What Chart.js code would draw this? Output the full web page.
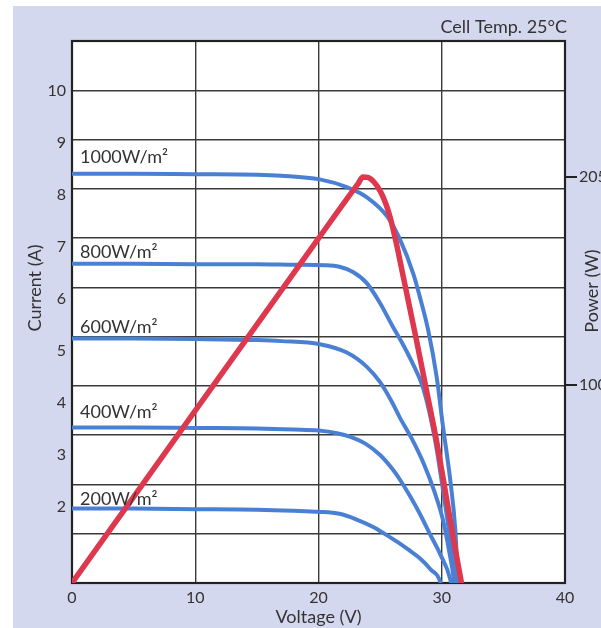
<!DOCTYPE html>
<html>
<head>
<meta charset="utf-8">
<script src="https://cdn.jsdelivr.net/npm/chart.js@4/dist/chart.umd.min.js"></script>
<style>
  html, body { margin: 0; padding: 0; background: #ffffff; overflow: hidden; }
  #wrap { width: 601px; height: 628px; position: relative; }
</style>
</head>
<body>
<div id="wrap"><canvas id="c"></canvas></div>
<script>
// ---- Data ----
const voltageTicks = [0, 10, 20, 30, 40];
const currentTicks = [2, 3, 4, 5, 6, 7, 8, 9, 10];
const powerTicks = [100, 205];

const irradianceLabels = ['1000W/m²', '800W/m²', '600W/m²', '400W/m²', '200W/m²'];

// I-V curves (voltage V, current A)
const v1000 = [0, 5, 10, 15, 17, 20.1, 22.3, 23.9, 25.6, 26.6, 27.7, 28.2, 28.9, 29.6, 30.1, 30.7, 31.1, 31.3, 31.4];
const i1000 = [8.41, 8.41, 8.40, 8.39, 8.37, 8.30, 8.15, 7.96, 7.58, 7.15, 6.48, 6.06, 5.40, 4.48, 3.55, 2.50, 1.56, 0.60, 0];

const v800 = [0, 5, 10, 15, 18, 20.5, 21.7, 22.8, 23.9, 25.0, 26.0, 26.8, 27.6, 28.5, 29.45, 30.4, 30.9, 31.2, 31.35];
const i800 = [6.68, 6.68, 6.67, 6.67, 6.66, 6.65, 6.62, 6.52, 6.31, 5.92, 5.48, 5.15, 4.78, 4.28, 3.30, 1.85, 1.05, 0.54, 0];

const v600 = [0, 5, 10, 15, 17, 20.1, 22.3, 23.9, 25.0, 26.0, 26.6, 27.6, 28.6, 29.4, 30.1, 30.6, 31.0, 31.15];
const i600 = [5.24, 5.24, 5.23, 5.21, 5.19, 5.13, 4.97, 4.70, 4.40, 4.00, 3.72, 3.30, 2.80, 2.30, 1.75, 1.15, 0.54, 0];

const v400 = [0, 5, 10, 15, 18, 20, 21.5, 22.6, 23.8, 25.0, 26.0, 26.6, 27.4, 28.2, 29.0, 29.9, 30.7, 31.1];
const i400 = [3.53, 3.53, 3.52, 3.51, 3.49, 3.47, 3.42, 3.35, 3.22, 3.00, 2.73, 2.53, 2.22, 1.88, 1.50, 1.08, 0.60, 0];

const v200 = [0, 5, 10, 15, 18, 20, 21.7, 23.0, 24.4, 25.4, 26.4, 27.3, 28.2, 29.1, 29.9, 30.3];
const i200 = [1.97, 1.97, 1.96, 1.95, 1.93, 1.91, 1.87, 1.77, 1.62, 1.48, 1.33, 1.18, 1.02, 0.80, 0.54, 0];

// P-V curve at 1000 W/m2 (voltage V, power W)
const vPower = [0, 5, 10, 15, 20, 22.6, 23.2, 23.6, 24.0, 24.5, 25.0, 25.4, 25.8, 26.3, 26.9, 27.5, 28.0, 28.8, 29.6, 30.3, 30.9, 31.6];
const pPower = [0, 43.5, 87, 130.5, 174, 196.5, 201.5, 205, 204.8, 202.5, 198, 192.5, 185, 172, 154, 136, 121, 96, 71, 46, 24, 0];

// ---- helpers ----
const pts = (xs, ys) => xs.map((x, k) => ({ x: x, y: ys[k] }));
const BLUE = 'rgb(74,128,212)';
const RED = 'rgb(222,56,78)';
const INK = '#333333';
const GRID = '#3a3a3a';
const FONT = 'Lato, "Open Sans", sans-serif';
Chart.defaults.font.family = FONT;
Chart.defaults.color = INK;

const labelCurrent = [8.62, 6.79, 5.35, 3.71, 2.04];

const decor = {
  id: 'decor',
  beforeDraw(chart) {
    const { ctx, chartArea: a, width, height } = chart;
    ctx.save();
    ctx.fillStyle = '#ffffff';
    ctx.fillRect(0, 0, width, height);
    ctx.fillStyle = '#d4d8ee';
    ctx.fillRect(13, 6, width - 13, height - 6);
    ctx.fillStyle = '#ffffff';
    ctx.fillRect(a.left, a.top, a.right - a.left, a.bottom - a.top);
    ctx.restore();
  },
  beforeDatasetsDraw(chart) {
    const { ctx, chartArea: a } = chart;
    ctx.save();
    ctx.strokeStyle = '#222222';
    ctx.lineWidth = 2.2;
    ctx.strokeRect(a.left, a.top, a.right - a.left, a.bottom - a.top);
    ctx.restore();
  },
  afterDraw(chart) {
    const { ctx, chartArea: a, scales } = chart;
    ctx.save();
    ctx.fillStyle = INK;
    // irradiance labels
    ctx.font = '18px ' + FONT;
    ctx.textAlign = 'left';
    ctx.textBaseline = 'alphabetic';
    irradianceLabels.forEach((t, k) => {
      ctx.fillText(t, scales.x.getPixelForValue(0.65), scales.y.getPixelForValue(labelCurrent[k]));
    });
    // cell temperature note
    ctx.font = '18px ' + FONT;
    ctx.textAlign = 'right';
    ctx.fillText('Cell Temp. 25°C', a.right + 2, 33);
    // axis titles (rotated)
    ctx.font = '18px ' + FONT;
    ctx.textAlign = 'center';
    ctx.textBaseline = 'middle';
    ctx.save();
    ctx.translate(35, 288);
    ctx.rotate(-Math.PI / 2);
    ctx.fillText('Current (A)', 0, 0);
    ctx.restore();
    ctx.save();
    ctx.translate(592, 291);
    ctx.rotate(-Math.PI / 2);
    ctx.fillText('Power (W)', 0, 0);
    ctx.restore();
    ctx.restore();
  }
};

new Chart(document.getElementById('c'), {
  type: 'line',
  data: {
    datasets: [
      { label: 'Power 1000W/m²', data: pts(vPower, pPower), yAxisID: 'yp', borderColor: RED, borderWidth: 5.5 },
      { label: '1000W/m²', data: pts(v1000, i1000), yAxisID: 'y', borderColor: BLUE, borderWidth: 4 },
      { label: '800W/m²', data: pts(v800, i800), yAxisID: 'y', borderColor: BLUE, borderWidth: 4 },
      { label: '600W/m²', data: pts(v600, i600), yAxisID: 'y', borderColor: BLUE, borderWidth: 4 },
      { label: '400W/m²', data: pts(v400, i400), yAxisID: 'y', borderColor: BLUE, borderWidth: 4 },
      { label: '200W/m²', data: pts(v200, i200), yAxisID: 'y', borderColor: BLUE, borderWidth: 4 }
    ]
  },
  options: {
    responsive: true,
    maintainAspectRatio: false,
    animation: false,
    layout: { padding: { top: 41, left: 0, right: 0, bottom: 0 } },
    elements: {
      point: { radius: 0 },
      line: { cubicInterpolationMode: 'monotone', fill: false, borderCapStyle: 'round', borderJoinStyle: 'round' }
    },
    plugins: { legend: { display: false }, tooltip: { enabled: false }, title: { display: false } },
    scales: {
      x: {
        type: 'linear', position: 'bottom', min: 0, max: 40,
        afterBuildTicks: (s) => { s.ticks = voltageTicks.map(v => ({ value: v })); },
        afterFit: (s) => { s.height = 45; },
        grid: { color: GRID, lineWidth: 1.4, drawTicks: false },
        border: { display: false },
        ticks: { padding: 5, font: { size: 16 }, color: INK, maxRotation: 0 },
        title: { display: true, text: 'Voltage (V)', font: { size: 18 }, color: INK, padding: { top: 0, bottom: 0 } }
      },
      y: {
        type: 'linear', position: 'left', min: 0.54, max: 10.96,
        afterBuildTicks: (s) => { s.ticks = currentTicks.map(v => ({ value: v })); },
        afterFit: (s) => { s.width = 72; },
        grid: { display: false, drawTicks: false },
        border: { display: false },
        ticks: { padding: 6, font: { size: 16 }, color: INK }
      },
      yp: {
        type: 'linear', position: 'right', min: 0, max: 273.7,
        afterBuildTicks: (s) => { s.ticks = powerTicks.map(v => ({ value: v })); },
        afterFit: (s) => { s.width = 36; },
        grid: { drawOnChartArea: false, drawTicks: true, tickLength: 12, color: '#222222', lineWidth: 2 },
        border: { display: false },
        ticks: { padding: 2, font: { size: 16 }, color: INK }
      },
      yg: {
        type: 'linear', position: 'right', min: 0, max: 11,
        afterFit: (s) => { s.width = 0; },
        grid: { color: GRID, lineWidth: 1.4, drawTicks: false },
        border: { display: false },
        ticks: { display: false, stepSize: 1 }
      }
    }
  },
  plugins: [decor]
});
</script>
</body>
</html>
